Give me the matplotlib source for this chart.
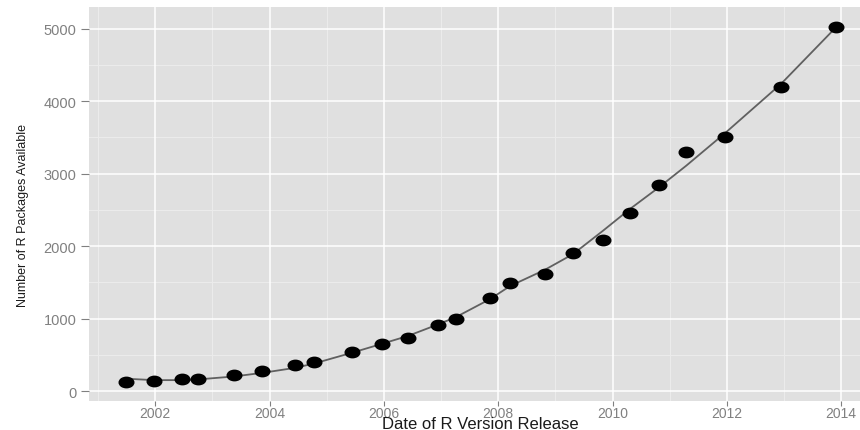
import numpy as np
import matplotlib.pyplot as plt
from matplotlib.markers import MarkerStyle
from matplotlib.transforms import Affine2D

# release dates (decimal years) and package counts
release = [2001.48, 2001.98, 2002.46, 2002.75, 2003.37, 2003.87, 2004.45,
           2004.78, 2005.45, 2005.96, 2006.42, 2006.95, 2007.26, 2007.86,
           2008.21, 2008.81, 2009.31, 2009.83, 2010.31, 2010.81, 2011.29,
           2011.97, 2012.95, 2013.91]
packages = [120, 135, 160, 160, 215, 275, 355, 405, 545, 650, 735, 910,
            1000, 1290, 1495, 1610, 1910, 2090, 2450, 2840, 3300, 3500,
            4200, 5030]
# smoothed trend read at the same dates
smooth = [170, 150, 150, 160, 200, 250, 320, 380, 530, 650, 760, 920,
          1020, 1270, 1450, 1670, 1890, 2210, 2515, 2810, 3110, 3560,
          4240, 5020]

x_ticks = [2002, 2004, 2006, 2008, 2010, 2012, 2014]
y_ticks = [0, 1000, 2000, 3000, 4000, 5000]

plt.rcParams.update({'font.family': ['Liberation Sans', 'DejaVu Sans']})

fig = plt.figure(figsize=(8.6, 4.31), dpi=100)
ax = fig.add_axes([89/860, 1-402/431, 1-89/860, (402-8)/431])
ax.set_facecolor('#e0e0e0')

# minor grid (midpoints) then major grid
for xm in np.arange(2001, 2015, 2):
    ax.axvline(xm, color='#ececec', lw=0.7, zorder=0)
for ym in np.arange(500, 5500, 1000):
    ax.axhline(ym, color='#ececec', lw=0.7, zorder=0)
for xm in x_ticks:
    ax.axvline(xm, color='white', lw=1.1, zorder=0)
for ym in y_ticks:
    ax.axhline(ym, color='white', lw=1.1, zorder=0)

ax.plot(release, smooth, color='#606060', lw=1.3, zorder=2)
ell = MarkerStyle('o', transform=Affine2D().scale(1.4, 1.0))
ax.plot(release, packages, linestyle='none', marker=ell, markersize=7.5,
        color='black', zorder=3)

ax.set_xlim(2000.84, 2014.33)
ax.set_ylim(-138, 5300)
ax.set_xticks(x_ticks)
ax.set_yticks(y_ticks)
for s in ax.spines.values():
    s.set_visible(False)
ax.tick_params(colors='#808080', width=0.8)
ax.tick_params(axis='x', pad=0, labelsize=10, length=3.5)
ax.tick_params(axis='y', pad=3, labelsize=10.5, length=6)

ax.set_xlabel('Date of R Version Release', fontsize=12, color='#1a1a1a')
ax.xaxis.label.set_va('baseline')
ax.xaxis.set_label_coords(480/860, 2/431, transform=fig.transFigure)
ax.set_ylabel('Number of R Packages Available', fontsize=9,
              color='#1a1a1a')
ax.yaxis.set_label_coords(23/860, 0.5, transform=fig.transFigure)
ax.yaxis.label.set_va('center')

plt.savefig('out.png', dpi=100)
